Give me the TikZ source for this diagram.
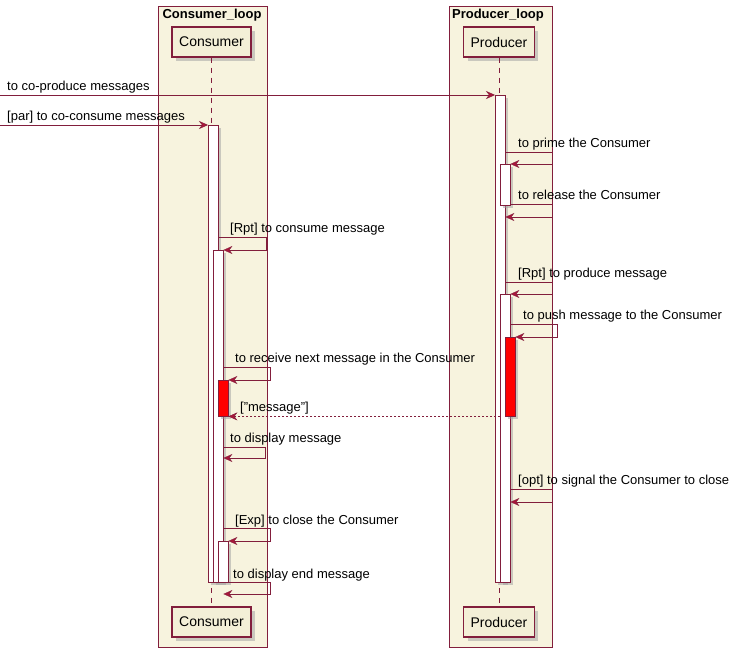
\documentclass[tikz,border=0pt]{standalone}
\usepackage{fontspec}
\setmainfont{Liberation Sans}
\usetikzlibrary{arrows.meta,shadows,calc}
\definecolor{umlline}{HTML}{821E3C}
\definecolor{umltip}{HTML}{A8163A}
\definecolor{umlbox}{HTML}{F7F3DE}
\definecolor{umlhead}{HTML}{F3EFD7}
\tikzstyle{loopbox}     = [draw=umlline, fill=umlbox, anchor=north west, inner sep=0pt]
\tikzstyle{looptitle}   = [anchor=base, inner sep=0pt, font=\fontsize{13}{15}\selectfont\bfseries]
\tikzstyle{participant} = [draw=umlline, fill=umlhead, line width=1.5pt, inner xsep=7pt, minimum height=30pt, drop shadow={shadow xshift=4pt, shadow yshift=-4pt, fill=gray!75}, font=\fontsize{14}{16}\selectfont]
\tikzstyle{act}         = [draw=umlline, fill=white, anchor=north west, minimum width=10pt, inner sep=0pt, drop shadow={shadow xshift=3pt, shadow yshift=-3pt, fill=gray!75}]
\tikzstyle{redact}      = [act, fill=red]
\tikzstyle{lifeline}    = [draw=umlline, dash pattern=on 5pt off 5pt]
\tikzstyle{msg}         = [draw=umlline, -{Stealth[length=9pt,width=8pt,inset=3pt,fill=umltip]}]
\tikzstyle{ret}         = [msg, dash pattern=on 2pt off 2pt]
\tikzstyle{lbl}         = [anchor=base west, inner sep=0pt, font=\fontsize{13}{15}\selectfont]

\begin{document}
\begin{tikzpicture}[x=1pt, y=-1pt]
		\useasboundingbox[fill=white] (0,0) rectangle (737,652);
		% boxes
		\node[loopbox, minimum width=109pt, minimum height=641pt] (consloop) at (158,6) {};
		\node[loopbox, minimum width=103pt, minimum height=641pt] (prodloop) at (449,6) {};
		\node[looptitle] (constitle) at (212,19) {Consumer\_loop};
		\node[looptitle] (prodtitle) at (498,19) {Producer\_loop};
		% participants
		\node[participant] (cons) at (211.5,42) {Consumer};
		\node[participant] (prod) at (499,42) {Producer};
		\node[participant] (consend) at (211.5,622) {Consumer};
		\node[participant] (prodend) at (499,622) {Producer};
		\draw[lifeline] (cons) -- (consend);
		\draw[lifeline] (prod) -- (prodend);
		% activations
		\node[act, minimum height=457pt] (cact1) at (208,125) {};
		\node[act, minimum height=332pt] (cact2) at (213,250) {};
		\node[redact, minimum height=36pt] (credact) at (218,380) {};
		\node[act, minimum height=41pt] (cact3) at (218,541) {};
		\node[act, minimum height=487pt] (pact1) at (495,95) {};
		\node[act, minimum height=41pt] (pprime) at (500,164) {};
		\node[act, minimum height=288pt] (pact2) at (500,294) {};
		\node[redact, minimum height=79pt] (predact) at (505,337) {};
		% messages
		\coordinate (src1) at (0,95);
		\coordinate (src2) at (0,125);
		\draw[msg] (src1) -- (pact1.north west);
		\node[lbl] (l1) at (7,90.5) {to co-produce messages};
		\draw[msg] (src2) -- (cact1.north west);
		\node[lbl] (l2) at (7,121) {[par] to co-consume messages};
		\draw[msg] (pact1.east |- 0,152) -- ++(47,0) |- (pprime.north east);
		\node[lbl] (l3) at (518,148) {to prime the Consumer};
		\draw[msg] (pprime.east |- 0,204) -- ++(42,0) |- (pact1.east |- 0,217);
		\node[lbl] (l4) at (518,200) {to release the Consumer};
		\draw[msg] (cact1.east |- 0,237) -- ++(48,0) |- (cact2.north east);
		\node[lbl] (l5) at (230,233) {[Rpt] to consume message};
		\draw[msg] (pact1.east |- 0,282) -- ++(47,0) |- (pact2.north east);
		\node[lbl] (l6) at (518,278) {[Rpt] to produce message};
		\draw[msg] (pact2.east |- 0,324) -- ++(47,0) |- (predact.north east);
		\node[lbl] (l7) at (523,320) {to push message to the Consumer};
		\draw[msg] (cact2.east |- 0,367) -- ++(47,0) |- (credact.north east);
		\node[lbl] (l8) at (235,363) {to receive next message in the Consumer};
		\draw[ret] (pact2.west |- credact.south east) -- (credact.south east);
		\node[lbl] (l9) at (240,412) {["message"]};
		\draw[msg] (cact2.east |- 0,447) -- ++(42,0) |- (cact2.east |- 0,458);
		\node[lbl] (l10) at (230,443) {to display message};
		\draw[msg] (pact2.east |- 0,489) -- ++(42,0) |- (pact2.east |- 0,502);
		\node[lbl] (l11) at (518,485) {[opt] to signal the Consumer to close};
		\draw[msg] (cact2.east |- 0,528) -- ++(47,0) |- (cact3.north east);
		\node[lbl] (l12) at (235,524) {[Exp] to close the Consumer};
		\draw[msg] (cact3.south east) -- ++(42,0) |- (cact2.east |- 0,594);
		\node[lbl] (l13) at (233,578) {to display end message};
	\end{tikzpicture}
\end{document}
